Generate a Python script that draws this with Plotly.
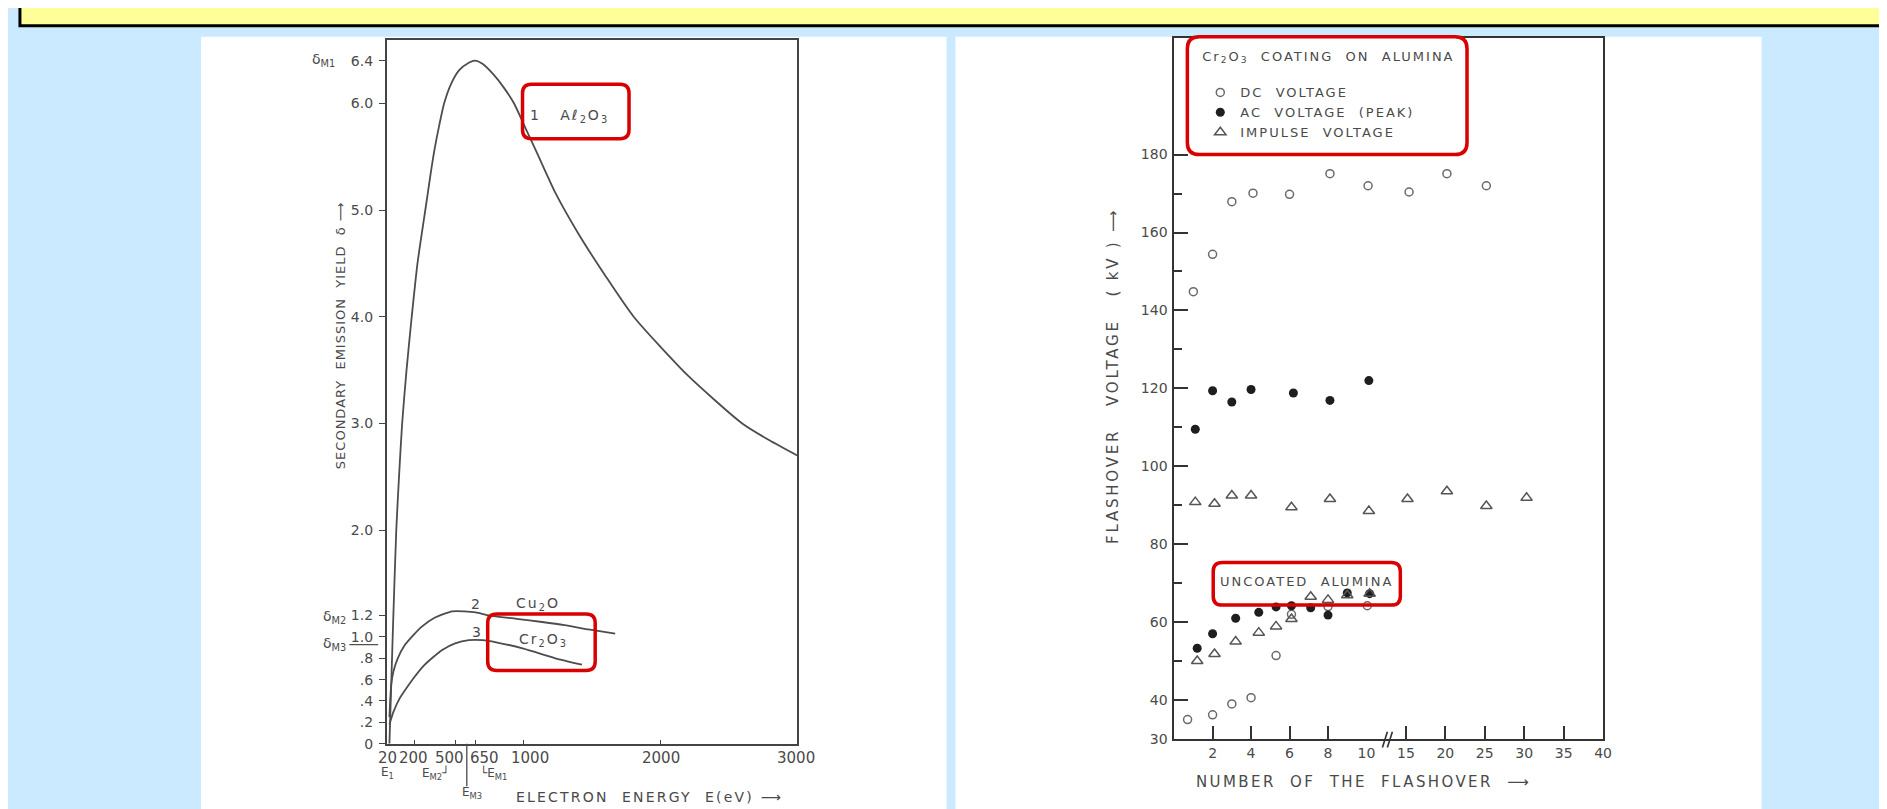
import plotly.graph_objects as go

W, H = 1887, 809


def px(x):
    return x / W


def py(y):
    return 1 - y / H


# ---------------- data: left panel (secondary emission yield) ----------------
energy_al2o3 = [20, 45, 70, 90, 113, 145, 183, 225, 287, 320, 350, 385, 420, 470, 530, 600, 646,
                700, 780, 860, 930, 1010, 1100, 1233, 1400, 1600, 1805, 2200, 2598, 2800, 3000]
yield_al2o3 = [0.0, 1.05, 2.0, 2.5, 3.0, 3.5, 4.0, 4.5, 5.04, 5.33, 5.57, 5.8, 6.0, 6.18, 6.31, 6.38, 6.4,
               6.37, 6.27, 6.14, 6.0, 5.78, 5.53, 5.16, 4.78, 4.38, 4.0, 3.45, 3.0, 2.84, 2.7]

energy_cu2o = [20, 33, 50, 81, 130, 190, 250, 350, 480, 650, 750, 950, 1136, 1300, 1475, 1670]
yield_cu2o = [0.25, 0.55, 0.68, 0.8, 0.92, 1.01, 1.09, 1.18, 1.24, 1.23, 1.2, 1.17, 1.14, 1.11, 1.07, 1.03]

energy_cr2o3 = [20, 50, 93, 150, 200, 263, 330, 409, 500, 600, 700, 800, 1000, 1233, 1427]
yield_cr2o3 = [0.18, 0.3, 0.42, 0.53, 0.62, 0.72, 0.8, 0.88, 0.94, 0.97, 0.97, 0.95, 0.89, 0.8, 0.74]

left_ytick_vals = [0, 0.2, 0.4, 0.6, 0.8, 1.0, 1.2, 2.0, 3.0, 4.0, 5.0, 6.0, 6.4]
left_ytick_text = ["0", ".2", ".4", ".6", ".8", "1.0", "1.2", "2.0", "3.0", "4.0", "5.0", "6.0", "6.4"]
left_xtick_vals = [200, 500, 650, 1000, 2000]
left_xtick_labels = ["20", "200", "500", "650", "1000", "2000", "3000"]

# ---------------- data: right panel (flashover voltage) ----------------
coated_dc_n = [1.0, 2.0, 3.0, 4.1, 6.0, 8.1, 10.2, 15.4, 20.2, 25.2]
coated_dc_kv = [144.8, 154.4, 167.9, 170.1, 169.8, 175.1, 172.0, 170.4, 175.1, 172.0]
coated_ac_n = [1.1, 2.0, 3.0, 4.0, 6.2, 8.1, 10.3]
coated_ac_kv = [109.5, 119.4, 116.5, 119.7, 118.8, 116.9, 122.0]
coated_imp_n = [1.1, 2.1, 3.0, 4.0, 6.1, 8.1, 10.3, 15.2, 20.2, 25.2, 30.3]
coated_imp_kv = [90.8, 90.4, 92.5, 92.5, 89.5, 91.6, 88.5, 91.6, 93.6, 89.8, 91.9]

uncoated_dc_n = [0.7, 2.0, 3.0, 4.0, 5.3, 6.1, 8.0, 10.1]
uncoated_dc_kv = [35.0, 36.2, 39.0, 40.6, 51.4, 62.0, 64.0, 64.2]
uncoated_ac_n = [1.2, 2.0, 3.2, 4.4, 5.3, 6.1, 7.1, 8.0, 9.0, 10.4]
uncoated_ac_kv = [53.3, 57.0, 61.0, 62.5, 63.9, 64.2, 63.7, 61.8, 67.5, 67.3]
uncoated_imp_n = [1.2, 2.1, 3.2, 4.4, 5.3, 6.1, 7.1, 8.0, 9.0, 10.4]
uncoated_imp_kv = [50.0, 51.8, 55.0, 57.3, 58.9, 60.8, 66.5, 65.7, 66.9, 67.3]

right_ytick_vals = [30, 40, 60, 80, 100, 120, 140, 160, 180]
right_yminor_vals = [50, 70, 90, 110, 130, 150, 170]
right_xtick_low = [2, 4, 6, 8, 10]
right_xtick_high = [15, 20, 25, 30, 35, 40]

FONT = "DejaVu Sans"
TXT = "#4a4a4a"
RED = "#d80000"


def spaced(text, sp):
    return f'<span style="letter-spacing:{sp}px">{text}</span>'


fig = go.Figure()

curve_style = dict(color="#4d4d4d", width=1.8, shape="spline", smoothing=0.6)
for xs, ys in [(energy_al2o3, yield_al2o3), (energy_cu2o, yield_cu2o), (energy_cr2o3, yield_cr2o3)]:
    fig.add_trace(go.Scatter(x=xs, y=ys, mode="lines", line=curve_style, xaxis="x", yaxis="y",
                             showlegend=False, hoverinfo="skip"))

styles = {
    "dc": dict(symbol="circle-open", size=8, color="#6a6a6a", line=dict(width=1.5)),
    "ac": dict(symbol="circle", size=9, color="#1e1e1e"),
    "imp": dict(symbol="triangle-up-open", size=10, color="#555555", line=dict(width=1.5)),
}
names = {"dc": spaced("DC  VOLTAGE", 2),
         "ac": spaced("AC  VOLTAGE  (PEAK)", 2),
         "imp": spaced("IMPULSE  VOLTAGE", 2)}


def add_series(ns, vs, kind, legend):
    lo = [(n, v) for n, v in zip(ns, vs) if n < 9.95]
    hi = [(n, v) for n, v in zip(ns, vs) if n >= 9.95]
    first = True
    for pts, xa, ya in [(lo, "x2", "y2"), (hi, "x3", "y3")]:
        if not pts:
            continue
        fig.add_trace(go.Scatter(
            x=[p[0] for p in pts], y=[p[1] for p in pts], mode="markers",
            marker=styles[kind], xaxis=xa, yaxis=ya, cliponaxis=False,
            name=names[kind], legendgroup=kind + str(legend),
            showlegend=legend and first, hoverinfo="skip"))
        first = False


add_series(coated_dc_n, coated_dc_kv, "dc", True)
add_series(coated_ac_n, coated_ac_kv, "ac", True)
add_series(coated_imp_n, coated_imp_kv, "imp", True)
add_series(uncoated_dc_n, uncoated_dc_kv, "dc", False)
add_series(uncoated_ac_n, uncoated_ac_kv, "ac", False)
add_series(uncoated_imp_n, uncoated_imp_kv, "imp", False)

# ---------------- shapes ----------------
shapes = []


def rect(x0, y0, x1, y1, fill, line_color=None, lw=0, layer="below"):
    shapes.append(dict(type="rect", xref="paper", yref="paper", x0=px(x0), x1=px(x1),
                       y0=py(y1), y1=py(y0), fillcolor=fill, layer=layer,
                       line=dict(color=line_color or fill, width=lw)))


def line(x0, y0, x1, y1, color="#4a4a4a", lw=1.5):
    shapes.append(dict(type="line", xref="paper", yref="paper", x0=px(x0), y0=py(y0),
                       x1=px(x1), y1=py(y1), line=dict(color=color, width=lw), layer="above"))


def rbox(x0, y0, x1, y1, r=9):
    X, Y = px, py
    p = (f"M {X(x0 + r)},{Y(y0)} L {X(x1 - r)},{Y(y0)} Q {X(x1)},{Y(y0)} {X(x1)},{Y(y0 + r)} "
         f"L {X(x1)},{Y(y1 - r)} Q {X(x1)},{Y(y1)} {X(x1 - r)},{Y(y1)} "
         f"L {X(x0 + r)},{Y(y1)} Q {X(x0)},{Y(y1)} {X(x0)},{Y(y1 - r)} "
         f"L {X(x0)},{Y(y0 + r)} Q {X(x0)},{Y(y0)} {X(x0 + r)},{Y(y0)} Z")
    shapes.append(dict(type="path", xref="paper", yref="paper", path=p,
                       line=dict(color=RED, width=3.5), layer="above"))


# banner
rect(12, -6, 1885, 18, "#ffff99", "#000000", 3, layer="below")
# white panels
rect(194, 29, 943, 812, "#ffffff")
rect(952, 29, 1762, 812, "#ffffff")

# red highlight boxes
rbox(517, 77, 624, 132)
rbox(482, 612, 590, 669)
rbox(1185, 29, 1466, 148, r=12)
rbox(1211, 560, 1399, 603)

# E_M3 marker line and delta_M3 rule
line(461, 743, 461, 786, lw=1.3)
line(343, 643, 372, 643, lw=1.2)
# axis break marks
line(1381, 747, 1386, 731, color="#333333", lw=1.6)
line(1386, 747, 1391, 731, color="#333333", lw=1.6)

# ---------------- annotations ----------------
anns = []


def ann(text, x, y, size=12, xanchor="center", yanchor="middle", angle=0, color=TXT):
    anns.append(dict(text=text, x=px(x), y=py(y), xref="paper", yref="paper",
                     xanchor=xanchor, yanchor=yanchor, textangle=angle, showarrow=False,
                     font=dict(family=FONT, size=size, color=color)))


# left panel texts
ann(spaced("1   A\u2113<sub>2</sub>O<sub>3</sub>", 2), 522, 109, 14, xanchor="left")
ann("2", 470, 602, 14)
ann(spaced("Cu<sub>2</sub>O", 2), 508, 602, 14, xanchor="left")
ann("3", 471, 630, 14)
ann(spaced("Cr<sub>2</sub>O<sub>3</sub>", 2), 511, 638, 14, xanchor="left")
ann("\u03b4<sub>M1</sub>", 331, 53, 14, xanchor="right")
ann("\u03b4<sub>M2</sub>", 342, 615, 14, xanchor="right")
ann("\u03b4<sub>M3</sub>", 342, 642, 14, xanchor="right")
for lbl, xc in zip(left_xtick_labels, [381, 407.5, 444, 479, 524, 656, 791.7]):
    ann(lbl, xc, 757, 15)
ann("E<sub>1</sub>", 381, 773, 12)
ann("E<sub>M2</sub>\u2518", 430, 773, 12)
ann("\u2514E<sub>M1</sub>", 488, 773, 12)
ann("E<sub>M3</sub>", 466, 793, 12)
ann(spaced("ELECTRON  ENERGY  E(eV) \u27f6", 2.2), 508, 797, 14, xanchor="left")
ann(spaced("SECONDARY  EMISSION  YIELD  \u03b4 \u27f6", 1), 334, 330, 13, angle=-90)

# right panel texts
ann(spaced("UNCOATED  ALUMINA", 2), 1305, 579, 13)
ann(spaced("NUMBER  OF  THE  FLASHOVER  \u27f6", 2.4), 1192, 782, 15, xanchor="left")
ann(spaced("FLASHOVER   VOLTAGE   ( kV ) \u27f6", 2.8), 1111, 372, 15, angle=-90)

axis_common = dict(showgrid=False, zeroline=False, showline=True, linewidth=1.5)

fig.update_layout(
    width=W, height=H, autosize=False,
    margin=dict(l=0, r=0, t=0, b=0, pad=0),
    paper_bgcolor="#cceaff", plot_bgcolor="#ffffff",
    font=dict(family=FONT, color=TXT, size=13),
    shapes=shapes, annotations=anns,
    showlegend=True,
    legend=dict(x=px(1198), y=py(36), xanchor="left", yanchor="top",
                bgcolor="rgba(0,0,0,0)", borderwidth=0, tracegroupgap=0,
                font=dict(family=FONT, size=13, color=TXT),
                title=dict(text=spaced("Cr<sub>2</sub>O<sub>3</sub>  COATING  ON  ALUMINA", 2) + "<br> ",
                           font=dict(family=FONT, size=13, color=TXT))),
    xaxis=dict(domain=[px(380.5), px(793)], range=[0, 3000], anchor="y", mirror=True,
               linecolor="#444444", ticks="inside", ticklen=4, tickcolor="#444444",
               tickvals=left_xtick_vals, showticklabels=False,
               tickfont=dict(family=FONT, size=14, color=TXT), **axis_common),
    yaxis=dict(domain=[py(743), py(32)], range=[0, 6.596], anchor="x", mirror=True,
               linecolor="#444444", ticks="outside", ticklen=6, tickcolor="#444444",
               tickvals=left_ytick_vals, ticktext=left_ytick_text, ticklabelstandoff=3,
               tickfont=dict(family=FONT, size=14, color=TXT), **axis_common),
    xaxis2=dict(domain=[px(1171.7), px(1365)], range=[0, 10], anchor="y2", mirror=True,
                linecolor="#333333", ticks="inside", ticklen=13, tickwidth=1.5,
                tickcolor="#333333", tickvals=right_xtick_low,
                tickfont=dict(family=FONT, size=14, color=TXT), **axis_common),
    xaxis3=dict(domain=[px(1365), px(1602.7)], range=[10, 40], anchor="y3", mirror=True,
                linecolor="#333333", ticks="inside", ticklen=13, tickwidth=1.5,
                tickcolor="#333333", tickvals=right_xtick_high,
                tickfont=dict(family=FONT, size=14, color=TXT), **axis_common),
    yaxis2=dict(domain=[py(738.3), py(30)], range=[30, 210], anchor="x2",
                linecolor="#333333", ticks="inside", ticklen=14, tickwidth=1.5,
                tickcolor="#333333", tickvals=right_ytick_vals,
                minor=dict(tickvals=right_yminor_vals, ticks="inside", ticklen=8,
                           tickwidth=1.5, tickcolor="#333333"),
                ticklabelstandoff=2,
                tickfont=dict(family=FONT, size=14, color=TXT), **axis_common),
    yaxis3=dict(domain=[py(738.3), py(30)], matches="y2", anchor="x3", side="right",
                linecolor="#333333", ticks="", showticklabels=False,
                tickfont=dict(family=FONT, size=14, color=TXT), **axis_common),
)

fig.write_html("out.html")
